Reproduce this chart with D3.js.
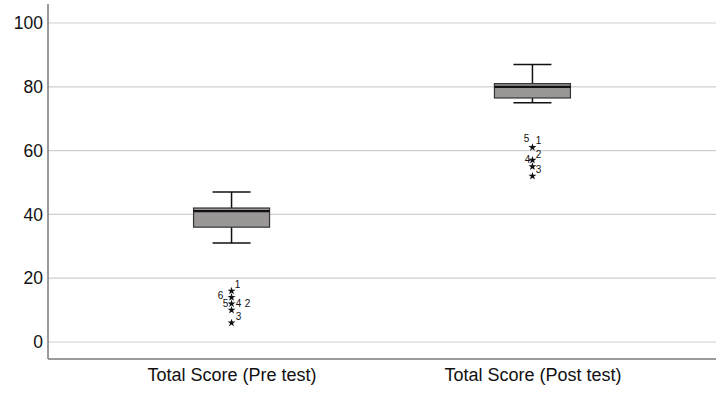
<!DOCTYPE html>
<html>
<head>
<meta charset="utf-8">
<script src="https://cdn.jsdelivr.net/npm/d3@7"></script>
<style>
  body { margin: 0; background: #fff; }
  text { font-family: Arial, "Liberation Sans", sans-serif; fill: #111; }
</style>
</head>
<body>
<svg id="chart"></svg>
<script>
const categories = ["Total Score (Pre test)", "Total Score (Post test)"];
const whiskerLow = [31, 75];
const quartile1 = [36, 76.5];
const medians = [41, 80];
const quartile3 = [42, 81];
const whiskerHigh = [47, 87];
const outlierValues = [[16, 14, 12, 10, 6], [61, 57, 55, 52]];
const outlierLabels = [
    [["1"], ["6"], ["5", "4", "2"], ["3"], []],
    [["5", "1", "2"], ["4"], ["3"], []]
];
const yTicks = [0, 20, 40, 60, 80, 100];

// where each case label sits next to its star (SPSS-ish placement)
const labelOffsets = {
    "0-0": [[6, -6]],
    "0-1": [[-11, -2]],
    "0-2": [[-6, 0], [7, 0], [16, 0]],
    "0-3": [[7, 6]],
    "1-0": [[-6, -9], [6, -7], [6, 7]],
    "1-1": [[-5, -1]],
    "1-2": [[6, 3]]
};

const width = 726,
      height = 394,
      margin = {left: 48, right: 10, top: 4, bottom: 35},
      svg = d3.select("#chart")
              .attr("width", width)
              .attr("height", height);

const x = d3.scalePoint()
    .domain(categories)
    .range([margin.left, width - margin.right])
    .padding(0.61);

const y = d3.scaleLinear()
    .domain([-5.33, 105.96])
    .range([height - margin.bottom, margin.top]);

const boxW = 76, capW = 38;

// gridlines
svg.append("g")
    .selectAll("line")
    .data(yTicks)
    .enter().append("line")
        .attr("x1", margin.left)
        .attr("x2", width - margin.right)
        .attr("y1", (d) => y(d))
        .attr("y2", (d) => y(d))
        .attr("stroke", "#cfcfcf")
        .attr("stroke-width", 1.2);

// y axis
const yAxis = svg.append("g")
    .attr("transform", `translate(${margin.left},0)`)
    .call(d3.axisLeft(y).tickValues(yTicks).tickSize(0).tickPadding(5));
yAxis.select(".domain").remove();
yAxis.selectAll("text")
    .style("font-size", "17.5px")
    .attr("fill", "#111");

// x axis
const xAxis = svg.append("g")
    .attr("transform", `translate(0,${height - margin.bottom})`)
    .call(d3.axisBottom(x).tickSize(0).tickPadding(9));
xAxis.select(".domain").remove();
xAxis.selectAll("text")
    .style("font-size", "18px")
    .attr("fill", "#111");

// axis frame lines
svg.append("line")
    .attr("x1", margin.left).attr("x2", margin.left)
    .attr("y1", margin.top).attr("y2", height - margin.bottom)
    .attr("stroke", "#7a7a7a").attr("stroke-width", 1.5);
svg.append("line")
    .attr("x1", margin.left).attr("x2", width - margin.right)
    .attr("y1", height - margin.bottom).attr("y2", height - margin.bottom)
    .attr("stroke", "#7a7a7a").attr("stroke-width", 1.5);

// boxes
const boxes = svg.append("g")
    .selectAll("g")
    .data(categories)
    .enter().append("g");

boxes.each(function (c, i) {
    const g = d3.select(this),
          cx = x(c);

    g.append("line")
        .attr("x1", cx).attr("x2", cx)
        .attr("y1", y(whiskerHigh[i])).attr("y2", y(whiskerLow[i]))
        .attr("stroke", "#111").attr("stroke-width", 1.5);
    [whiskerHigh[i], whiskerLow[i]].forEach((v) => {
        g.append("line")
            .attr("x1", cx - capW / 2).attr("x2", cx + capW / 2)
            .attr("y1", y(v)).attr("y2", y(v))
            .attr("stroke", "#111").attr("stroke-width", 1.5);
    });
    g.append("rect")
        .attr("x", cx - boxW / 2)
        .attr("y", y(quartile3[i]))
        .attr("width", boxW)
        .attr("height", y(quartile1[i]) - y(quartile3[i]))
        .attr("fill", "#9b9797")
        .attr("stroke", "#333")
        .attr("stroke-width", 1.2);
    g.append("line")
        .attr("x1", cx - boxW / 2).attr("x2", cx + boxW / 2)
        .attr("y1", y(medians[i])).attr("y2", y(medians[i]))
        .attr("stroke", "#111").attr("stroke-width", 2.2);

    const star = d3.symbol().type(d3.symbolStar).size(20);
    outlierValues[i].forEach((v, j) => {
        g.append("path")
            .attr("d", star)
            .attr("transform", `translate(${cx},${y(v)})`)
            .attr("fill", "#111");
        const offs = labelOffsets[`${i}-${j}`] || [];
        outlierLabels[i][j].forEach((lab, k) => {
            g.append("text")
                .attr("x", cx + offs[k][0])
                .attr("y", y(v) + offs[k][1])
                .attr("text-anchor", "middle")
                .attr("dominant-baseline", "central")
                .style("font-size", "10px")
                .text(lab);
        });
    });
});
</script>
</body>
</html>
